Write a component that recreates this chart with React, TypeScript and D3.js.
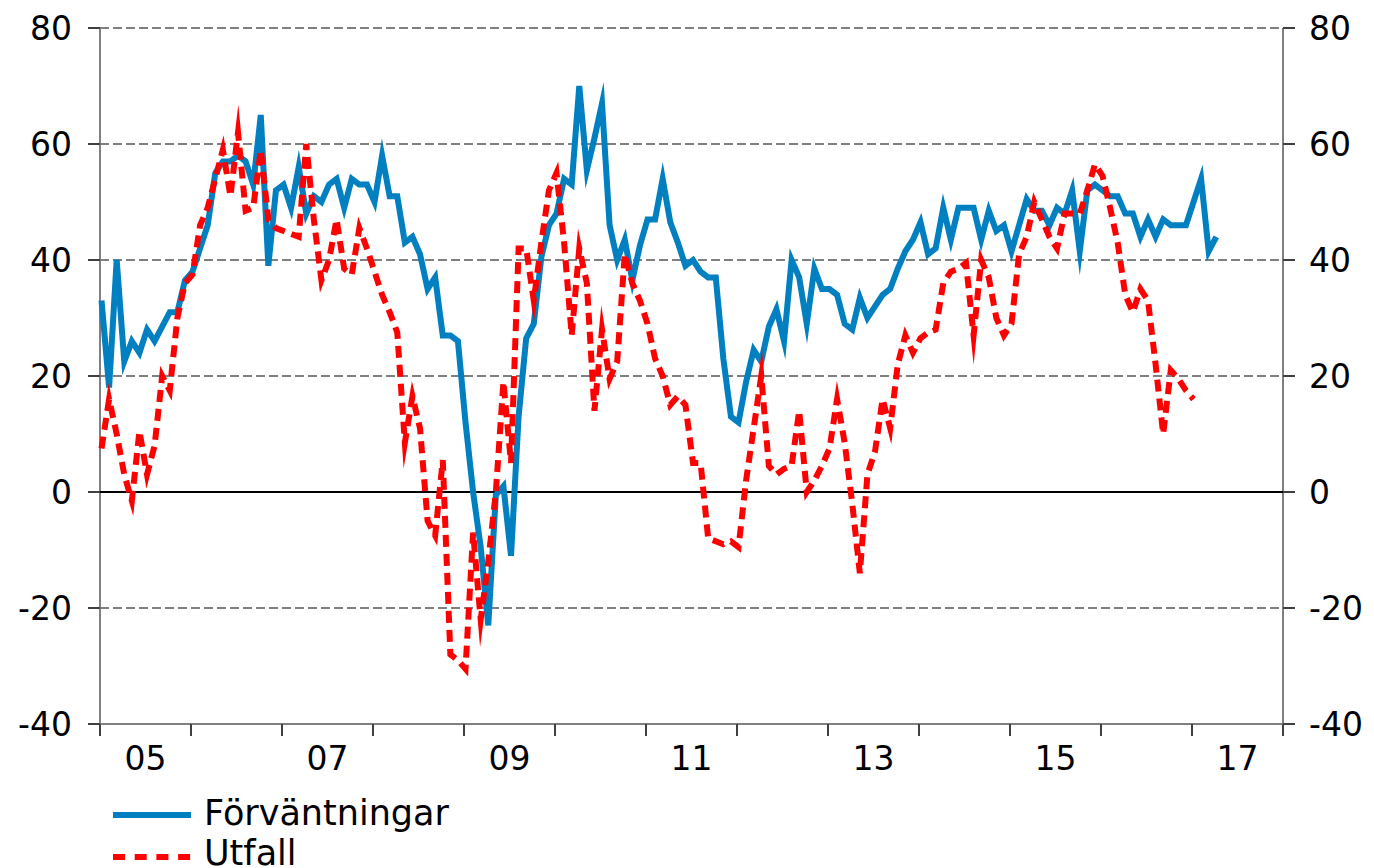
import React from 'react';
import * as d3 from 'd3';

// Monthly series, Jan 2005 onwards
const forvantningar: number[] = [
  33, 18, 40, 22.5, 26, 24, 28, 26, 28.5, 31, 31, 36.5,
  38, 42, 46, 55, 57, 57, 58, 57, 53, 65, 39, 52,
  53, 49, 56, 48, 51, 50, 53, 54, 49, 54, 53, 53,
  50, 58, 51, 51, 43, 44, 41, 35, 37, 27, 27, 26,
  12, 0, -9.5, -23, -0.5, 1, -11, 13, 26.5, 29, 40.5, 46,
  48, 54, 53, 70, 55.5, 61, 67, 46, 40, 43.5, 36.5, 42.5,
  47, 47, 54, 46.5, 43, 39, 40, 38, 37, 37, 23, 13,
  12, 19, 24.5, 22.5, 28.5, 31.5, 26, 40, 37, 29, 38.5, 35,
  35, 34, 29, 28, 33.5, 30, 32, 34, 35, 38.5, 41.5, 43.5,
  46.5, 41, 42, 49, 43.5, 49, 49, 49, 43.5, 48.5, 45, 46,
  41.5, 46, 50.5, 48.5, 48.5, 46, 49, 48, 52, 41.5, 52, 53,
  52, 51, 51, 48, 48, 44, 47, 44, 47, 46, 46, 46,
  50, 54, 41.5, 44,
];

const utfall: number[] = [
  7.5, 16, 10, 3, -1.5, 10.5, 3, 8, 20, 17.5, 30, 36,
  37.5, 46, 49, 54, 59, 51, 62, 48.5, 49, 59, 47, 45.5,
  45, 44.5, 44, 60, 47, 36.5, 40, 47, 38.5, 37.5, 45.5, 42,
  38, 34, 31, 27.5, 8.5, 16.5, 11, -5, -7.5, 5.5, -28, -29,
  -30.5, -7, -22, -12, 0, 19, 5, 42, 42, 33, 43, 52,
  55, 43, 27, 42, 36, 14, 28, 19.5, 22.5, 41, 36, 33,
  29, 23, 20, 15, 16.5, 15, 5, 5, -8, -8.5, -9, -8.5,
  -9.5, 2, 11, 20, 4.5, 3, 4, 4.5, 14, 0, 2, 4.5,
  7.5, 16, 8.5, -2, -14, 3, 7, 16, 11, 22, 27, 24,
  26.5, 27.5, 28, 36, 38, 38.5, 39.5, 27, 40, 37, 30, 27,
  29, 41, 44, 50, 47, 44, 42, 48, 48, 48, 52, 56.5,
  54.5, 49, 43, 34, 31, 35, 33, 22, 10, 21, 19.5, 17.5,
  16,
];

const yTicks: number[] = [-40, -20, 0, 20, 40, 60, 80];
const gridValues: number[] = [-20, 20, 40, 60, 80];
const yearStarts: number[] = d3.range(2005, 2019);
const yearLabels: string[] = ['05', '07', '09', '11', '13', '15', '17'];
const labelYears: number[] = [2005, 2007, 2009, 2011, 2013, 2015, 2017];
const seriesNames: string[] = ['Förväntningar', 'Utfall'];

const BLUE = '#0080c0';
const RED = '#ff0000';
const GRID = '#808080';
const FONT = 'DejaVu Sans, Verdana, sans-serif';

export default function App() {
  const W = 1374;
  const H = 868;
  const left = 100;
  const right = 1283;
  const top = 28;
  const bottom = 724;

  const x = d3.scaleLinear().domain([0, 13 * 12]).range([left, right]);
  const y = d3.scaleLinear().domain([-40, 80]).range([bottom, top]);
  const monthX = (i: number) => x(i + 0.2);

  const line = d3
    .line<number>()
    .x((_, i) => monthX(i))
    .y((d) => y(d));

  const yearX = (yr: number) => x((yr - 2005) * 12);

  return (
    <svg
      width={W}
      height={H}
      style={{ position: 'absolute', left: 0, top: 0, display: 'block', background: '#fff' }}
    >
      {/* gridlines */}
      {gridValues.map((v) => (
        <line
          key={'g' + v}
          x1={left}
          x2={right}
          y1={y(v)}
          y2={y(v)}
          stroke={GRID}
          strokeWidth={2}
          strokeDasharray="9,4"
        />
      ))}
      {/* axes */}
      <line x1={left} x2={left} y1={top} y2={bottom} stroke={GRID} strokeWidth={2} />
      <line x1={right} x2={right} y1={top} y2={bottom} stroke={GRID} strokeWidth={2} />
      <line x1={left} x2={right} y1={bottom} y2={bottom} stroke={GRID} strokeWidth={2} />
      {yTicks.map((v) => (
        <g key={'t' + v}>
          <line x1={left - 12} x2={left} y1={y(v)} y2={y(v)} stroke="#404040" strokeWidth={2} />
          <line x1={right} x2={right + 12} y1={y(v)} y2={y(v)} stroke="#404040" strokeWidth={2} />
          <text
            x={72}
            y={y(v) + 12}
            textAnchor="end"
            fontFamily={FONT}
            fontSize={33}
            fill="#000"
          >
            {v}
          </text>
          <text
            x={1309}
            y={y(v) + 12}
            textAnchor="start"
            fontFamily={FONT}
            fontSize={33}
            fill="#000"
          >
            {v}
          </text>
        </g>
      ))}
      {yearStarts.map((yr) => (
        <line
          key={'xt' + yr}
          x1={yearX(yr)}
          x2={yearX(yr)}
          y1={bottom}
          y2={bottom + 12}
          stroke="#404040"
          strokeWidth={2}
        />
      ))}
      {labelYears.map((yr, k) => (
        <text
          key={'xl' + yr}
          x={x((yr - 2005) * 12 + 6)}
          y={770}
          textAnchor="middle"
          fontFamily={FONT}
          fontSize={33}
          fill="#000"
        >
          {yearLabels[k]}
        </text>
      ))}
      {/* zero line */}
      <line x1={left} x2={right} y1={y(0)} y2={y(0)} stroke="#000" strokeWidth={2} />
      {/* series */}
      <path
        d={line(forvantningar) || ''}
        fill="none"
        stroke={BLUE}
        strokeWidth={6}
        strokeLinejoin="miter"
        strokeMiterlimit={10}
      />
      <path
        d={line(utfall) || ''}
        fill="none"
        stroke={RED}
        strokeWidth={6}
        strokeDasharray="12,7"
        strokeLinejoin="miter"
        strokeMiterlimit={10}
      />
      {/* legend */}
      <line x1={113} x2={191} y1={815} y2={815} stroke={BLUE} strokeWidth={6} />
      <text x={204} y={825} fontFamily={FONT} fontSize={35} fill="#000">
        {seriesNames[0]}
      </text>
      <line x1={113} x2={191} y1={857} y2={857} stroke={RED} strokeWidth={6} strokeDasharray="12,9.7" />
      <text x={204} y={865} fontFamily={FONT} fontSize={35} fill="#000">
        {seriesNames[1]}
      </text>
    </svg>
  );
}
